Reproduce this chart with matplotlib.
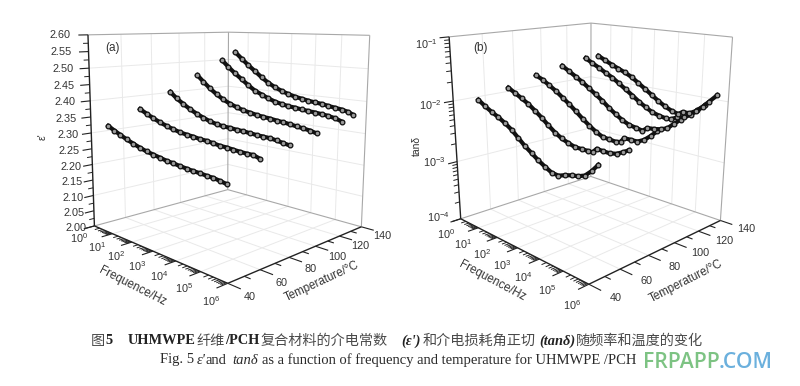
import numpy as np
import matplotlib
matplotlib.use('Agg')
import matplotlib.pyplot as plt

# ---------- data ----------
temps = [40, 60, 80, 100, 120, 130]

# panel (a): log10(frequency / Hz) and relative permittivity
a40_f = [0.94,1.25,1.55,1.86,2.18,2.49,2.79,3.09,3.38,3.66,3.94,4.21,4.47,4.73,4.99,5.23,5.48,5.71,5.97]
a40_v = [2.334,2.324,2.315,2.306,2.298,2.291,2.285,2.281,2.277,2.273,2.271,2.268,2.266,2.264,2.263,2.261,2.260,2.257,2.253]
a60_f = [0.92,1.25,1.58,1.90,2.21,2.52,2.82,3.11,3.40,3.68,3.95,4.22,4.48,4.74,4.99,5.24,5.48,5.71,5.94]
a60_v = [2.372,2.361,2.351,2.342,2.335,2.329,2.324,2.321,2.319,2.316,2.315,2.312,2.309,2.308,2.306,2.304,2.303,2.303,2.297]
a80_f = [0.95,1.26,1.59,1.90,2.21,2.52,2.82,3.11,3.39,3.67,3.94,4.21,4.47,4.73,4.98,5.23,5.47,5.71,5.94]
a80_v = [2.416,2.398,2.383,2.370,2.359,2.350,2.342,2.337,2.334,2.333,2.331,2.330,2.328,2.326,2.325,2.324,2.321,2.317,2.314]
a100_f = [0.93,1.22,1.54,1.86,2.17,2.48,2.78,3.07,3.35,3.63,3.91,4.18,4.44,4.70,4.95,5.20,5.45,5.69,5.92]
a100_v = [2.462,2.443,2.423,2.406,2.392,2.381,2.373,2.366,2.362,2.358,2.355,2.353,2.350,2.348,2.345,2.342,2.339,2.336,2.331]
a120_f = [0.90,1.20,1.52,1.84,2.15,2.46,2.76,3.05,3.34,3.62,3.90,4.17,4.43,4.69,4.95,5.20,5.45,5.69,5.93]
a120_v = [2.506,2.485,2.465,2.447,2.429,2.413,2.403,2.393,2.385,2.380,2.376,2.374,2.371,2.369,2.367,2.365,2.362,2.358,2.351]
a130_f = [0.95,1.26,1.58,1.90,2.21,2.51,2.81,3.11,3.40,3.68,3.95,4.22,4.49,4.75,5.01,5.26,5.50,5.75,5.93]
a130_v = [2.532,2.511,2.490,2.471,2.452,2.436,2.423,2.413,2.405,2.399,2.395,2.391,2.388,2.386,2.382,2.379,2.376,2.371,2.364]

# panel (b): log10(frequency / Hz) and log10(tan delta)
b40_f = [1.37,1.69,2.01,2.32,2.62,2.92,3.21,3.50,3.78,4.05,4.33,4.59,4.86,5.12,5.37,5.62,5.86,6.10,6.33]
b40_v = [-1.87,-1.94,-2.00,-2.05,-2.11,-2.18,-2.27,-2.36,-2.43,-2.50,-2.56,-2.61,-2.62,-2.58,-2.55,-2.53,-2.49,-2.40,-2.29]
b60_f = [1.25,1.58,1.89,2.20,2.51,2.81,3.10,3.39,3.67,3.95,4.22,4.49,4.76,4.92,5.08,5.33,5.57,5.81,6.05,6.25]
b60_v = [-1.78,-1.84,-1.90,-1.96,-2.04,-2.12,-2.21,-2.29,-2.35,-2.39,-2.42,-2.42,-2.42,-2.42,-2.35,-2.36,-2.36,-2.34,-2.29,-2.24]
b80_f = [1.14,1.47,1.79,2.10,2.40,2.70,3.00,3.29,3.58,3.86,4.13,4.40,4.67,4.85,4.98,5.23,5.48,5.72,5.95,6.17]
b80_v = [-1.67,-1.72,-1.79,-1.86,-1.94,-2.02,-2.11,-2.20,-2.28,-2.35,-2.40,-2.41,-2.42,-2.40,-2.33,-2.33,-2.33,-2.28,-2.20,-2.11]
b100_f = [1.07,1.40,1.72,2.03,2.34,2.64,2.94,3.23,3.52,3.81,4.09,4.36,4.63,4.82,5.07,5.32,5.57,5.80,6.03]
b100_v = [-1.59,-1.66,-1.73,-1.80,-1.88,-1.96,-2.04,-2.13,-2.21,-2.28,-2.33,-2.35,-2.37,-2.31,-2.30,-2.28,-2.24,-2.15,-2.07]
b120_f = [0.95,1.28,1.60,1.92,2.23,2.54,2.84,3.14,3.43,3.72,4.00,4.27,4.54,4.74,5.00,5.25,5.49,5.73,5.99]
b120_v = [-1.53,-1.60,-1.66,-1.73,-1.79,-1.87,-1.95,-2.03,-2.11,-2.18,-2.24,-2.27,-2.29,-2.29,-2.23,-2.21,-2.15,-2.06,-1.96]
b130_f = [0.98,1.30,1.63,1.94,2.25,2.56,2.86,3.16,3.45,3.74,4.03,4.30,4.57,4.74,5.00,5.25,5.49,5.72,5.99]
b130_v = [-1.52,-1.58,-1.64,-1.69,-1.74,-1.80,-1.88,-1.96,-2.04,-2.12,-2.19,-2.24,-2.27,-2.22,-2.22,-2.16,-2.07,-1.97,-1.85]

a_curves = [(a40_f,a40_v),(a60_f,a60_v),(a80_f,a80_v),(a100_f,a100_v),(a120_f,a120_v),(a130_f,a130_v)]
b_curves = [(b40_f,b40_v),(b60_f,b60_v),(b80_f,b80_v),(b100_f,b100_v),(b120_f,b120_v),(b130_f,b130_v)]

freq_decades = [0, 1, 2, 3, 4, 5, 6]
temp_ticks = [40, 60, 80, 100, 120, 140]
a_ticks = [2.00, 2.05, 2.10, 2.15, 2.20, 2.25, 2.30, 2.35, 2.40, 2.45, 2.50, 2.55, 2.60]
b_ticks = [-4, -3, -2, -1]

# ---------- layout ----------
W, H = 800, 386
plt.rcParams['font.family'] = ['Liberation Sans', 'DejaVu Sans']
plt.rcParams['mathtext.default'] = 'regular'
INK = '#333333'
GRID = '#e9e9e9'
EDGE = '#a8a8a8'
corners_a = [(94.7,226.7),(227,283),(361.7,226.7),(227.7,189.3),(88.3,34.3),(228,32.3),(370,35.7)]
corners_b = [(461,218.3),(588.3,285),(720.7,219.3),(590.7,177.3),(449.3,36.7),(590.7,22.7),(732.7,37.7)]


def fit_camera(corners, zr):
    """Perspective camera of the box, from the box corners in the picture."""
    world = [(0,40,zr[0]),(6,40,zr[0]),(6,140,zr[0]),(0,140,zr[0]),
             (0,40,zr[1]),(0,140,zr[1]),(6,140,zr[1])]
    A, b = [], []
    for (x,y,z),(px,py) in zip(world,corners):
        A.append([x,y,z,1,0,0,0,0,-px*x,-px*y,-px*z]); b.append(px)
        A.append([0,0,0,0,x,y,z,1,-py*x,-py*y,-py*z]); b.append(py)
    A = np.array(A,float); b = np.array(b,float)
    s = np.abs(A).max(axis=0); s[s==0] = 1
    p = np.linalg.lstsq(A/s,b,rcond=None)[0]/s
    return np.array([p[:4],p[4:8],list(p[8:])+[1.0]])


def make_axes(fig, corners, zr):
    ax = fig.add_axes([0,(H-W)/(2*H),1,W/H],projection='3d',computed_zorder=False)
    ax.set_axis_off(); ax.patch.set_visible(False)
    ax.set_xlim(0,6); ax.set_ylim(40,140); ax.set_zlim(*zr)
    P = fit_camera(corners,zr)
    def get_proj():
        i = ax.transData.inverted()
        o = i.transform((0,H)); x1 = i.transform((W,H)); y1 = i.transform((0,0))
        A = np.array([[(x1[0]-o[0])/W,0,o[0]],[0,(y1[1]-o[1])/H,o[1]],[0,0,1]])
        Q = A@P
        return np.array([Q[0],Q[1],np.linalg.svd(Q)[2][-1],Q[2]])
    ax.get_proj = get_proj
    return ax, P


def seg(ax, x, y, z, color, lw, zorder=2):
    ax.plot(x,y,z,color=color,lw=lw,zorder=zorder,solid_capstyle='butt')


def draw_panel(ax, curves, zr, zmajor, zminor, zgrid):
    z0, z1 = zr
    # grid on walls and floor
    for t in (60,80,100,120):
        seg(ax,[0,0],[t,t],[z0,z1],GRID,.7,1)
        seg(ax,[0,6],[t,t],[z0,z0],GRID,.7,1)
    for d in (1,2,3,4,5):
        seg(ax,[d,d],[140,140],[z0,z1],GRID,.7,1)
        seg(ax,[d,d],[40,140],[z0,z0],GRID,.7,1)
    for z in zgrid:
        seg(ax,[0,0,6],[40,140,140],[z,z,z],GRID,.7,1)
    # box edges
    seg(ax,[0,0,6],[40,140,140],[z0,z0,z0],EDGE,.8)
    seg(ax,[0,0,6],[40,140,140],[z1,z1,z1],EDGE,.8)
    seg(ax,[0,0],[140,140],[z0,z1],EDGE,.8)
    seg(ax,[6,6],[140,140],[z0,z1],EDGE,.8)
    # axes
    seg(ax,[0,0],[40,40],[z0,z1],'#222222',1.0,3)
    seg(ax,[0,6],[40,40],[z0,z0],'#222222',1.0,3)
    seg(ax,[6,6],[40,140],[z0,z0],'#222222',1.0,3)
    # ticks
    for z in zmajor:
        seg(ax,[0,0],[40,34.5],[z,z],'#222222',.8,3)
    for z in zminor:
        seg(ax,[0,0],[40,37],[z,z],'#222222',.7,3)
    for d in freq_decades:
        seg(ax,[d,d],[40,33.5],[z0,z0],'#222222',.8,3)
        if d < 6:
            for m in range(2,10):
                f = d+np.log10(m)
                seg(ax,[f,f],[40,37],[z0,z0],'#222222',.7,3)
    for t in range(40,141,10):
        seg(ax,[6,6+(.45 if t%20==0 else .22)],[t,t],[z0,z0],'#222222',.8,3)
    # curves
    for T,(f,v) in zip(temps,curves):
        ax.plot(f,[T]*len(f),v,color='#111111',lw=3.0,marker='o',ms=3.4,
                mfc='#9a9a9a',mec='#111111',mew=.9,zorder=4)


def text_px(fig, x, y, s, **kw):
    kw.setdefault('ha','left'); kw.setdefault('va','center'); kw.setdefault('color',INK)
    return fig.text(x/W,1-y/H,s,**kw)


def text_at(fig, P, x, y, z, s, **kw):
    """Tick label anchored at a point given in the box's own data values."""
    u = P@np.array([x,y,z,1.0])
    text_px(fig,u[0]/u[2],u[1]/u[2],s,fontsize=7.8,**kw)


fig = plt.figure(figsize=(W/100,H/100),dpi=100,facecolor='white')

# panel (a)
zr = (2.0,2.6)
ax, P = make_axes(fig,corners_a,zr)
minor = [t+.025 for t in a_ticks[:-1]]
draw_panel(ax,a_curves,zr,a_ticks,minor,[2.1,2.2,2.3,2.4,2.5])
for z in a_ticks:
    frac = (z-zr[0])/(zr[1]-zr[0])
    text_at(fig,P,0,40-(5+5*frac),z,'%.2f'%z,ha='right')
for d in freq_decades:
    text_at(fig,P,d,30.5,zr[0]-.027,'$10^{%d}$'%d,ha='center')
for t in temp_ticks:
    text_at(fig,P,6.75,t,zr[0]-.012,str(t),ha='center')
text_px(fig,132.5,286,'Frequence/Hz',rotation=-27,rotation_mode='anchor',ha='center',fontsize=8.4)
text_px(fig,321.5,281.5,'Temperature/°C',rotation=25,rotation_mode='anchor',ha='center',fontsize=8.3)
text_px(fig,42.7,137,"ε'",rotation=90,ha='center',fontsize=7.5)
text_px(fig,112.7,48.3,'(a)',ha='center',fontsize=8.5)

# panel (b)
zr = (-4,-1)
ax, P = make_axes(fig,corners_b,zr)
minor = [d+np.log10(m) for d in b_ticks[:-1] for m in range(2,10)]
draw_panel(ax,b_curves,zr,b_ticks,minor,[-3,-2])
for z in b_ticks:
    frac = (z-zr[0])/(zr[1]-zr[0])
    text_at(fig,P,0,33,z+.1-.19*frac,'$10^{%d}$'%z,ha='right')
for d in freq_decades:
    text_at(fig,P,d,30,zr[0]-.18,'$10^{%d}$'%d,ha='center')
for t in temp_ticks:
    text_at(fig,P,6.95,t,zr[0],str(t),ha='center')
text_px(fig,492.7,280.7,'Frequence/Hz',rotation=-28,rotation_mode='anchor',ha='center',fontsize=8.4)
text_px(fig,685.7,281,'Temperature/°C',rotation=27,rotation_mode='anchor',ha='center',fontsize=8.3)
text_px(fig,417,146,'tanδ',rotation=90,ha='center',fontsize=7.5)
text_px(fig,481,47.7,'(b)',ha='center',fontsize=8.5)

# caption
CJK = ['Noto Sans CJK SC','DejaVu Sans']
SER = ['Liberation Serif','DejaVu Serif']
y1, y2 = 341, 360
def cn(x,s): text_px(fig,x,y1,s,family=CJK,fontsize=10.2,color='#4a4a4a')
def bd(x,s,style='normal'): text_px(fig,x,y1,s,family=SER,fontsize=10.4,fontweight='bold',fontstyle=style,color='#222222')
cn(91,'图'); bd(105,'5'); bd(128,'UHMWPE'); cn(196.5,'纤维'); bd(225,'/PCH')
cn(261,'复合材料的介电常数'); bd(401,"(ε')",'italic'); cn(422.5,'和介电损耗角正切')
bd(539.6,'(tanδ)','italic'); cn(575.6,'随频率和温度的变化')
def en(x,s,style='normal'): text_px(fig,x,y2,s,family=SER,fontsize=10.5,fontstyle=style,color='#2a2a2a')
en(160.5,'Fig. 5'); en(197,"ε'",'italic'); en(206,'and'); en(232.7,'tanδ','italic')
en(261.7,'as a function of frequency and temperature for UHMWPE /PCH')

# watermark
OS = ['Open Sans','DejaVu Sans']
text_px(fig,643,363,'FRPAPP',family=OS,fontsize=15.2,fontweight='semibold',color='#7dc383')
text_px(fig,719,363,'.COM',family=OS,fontsize=15.2,fontweight='semibold',color='#6bb0dd')

fig.savefig('out.png',dpi=100,facecolor='white')
